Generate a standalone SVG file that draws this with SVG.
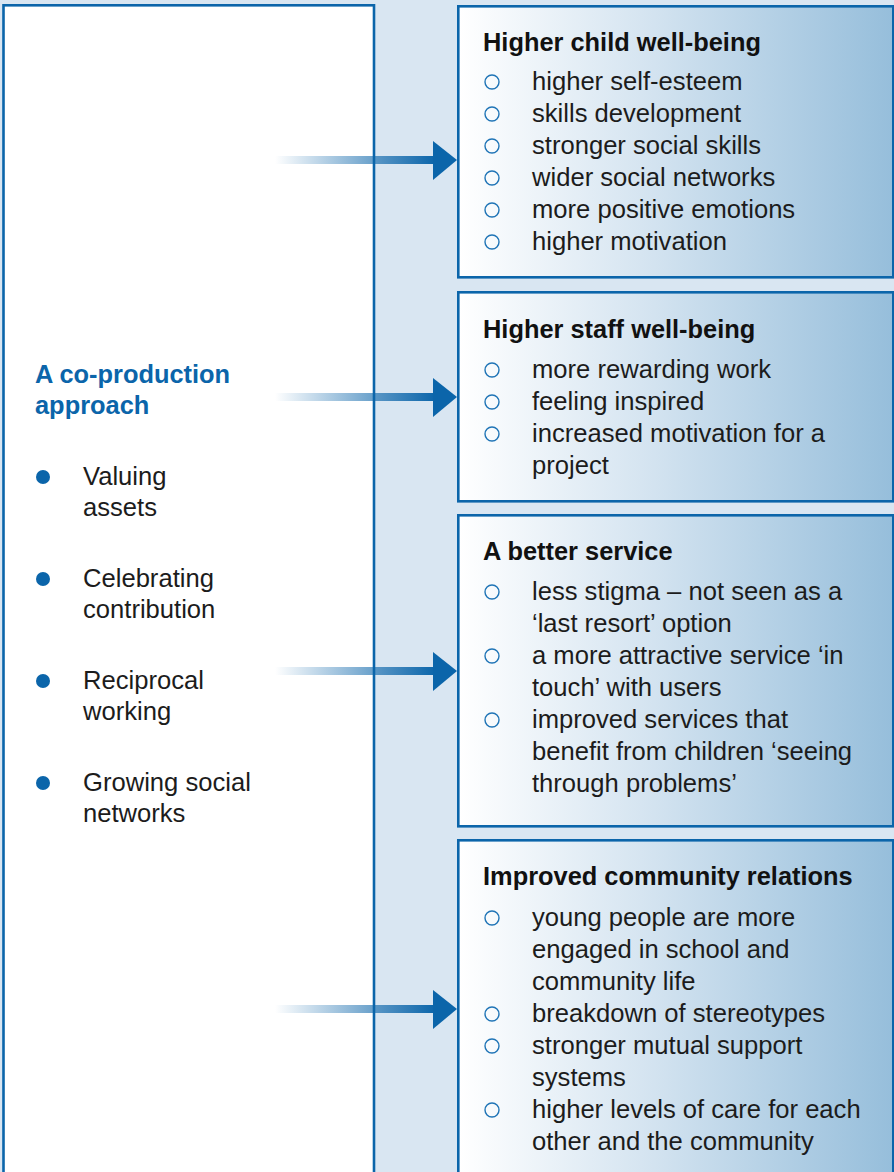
<svg xmlns="http://www.w3.org/2000/svg" width="894" height="1172" viewBox="0 0 894 1172">
  <style>
    .frame { stroke: #0b65aa; stroke-width: 2.6; }
    .left { fill: #ffffff; }
    .card { fill: url(#cardFill); }
    .head { font-family: "Liberation Sans", Arial, sans-serif; font-weight: bold; font-size: 25.4px; fill: #111111; }
    .title { font-family: "Liberation Sans", Arial, sans-serif; font-weight: bold; font-size: 25.4px; fill: #0b65aa; }
    .item { font-family: "Liberation Sans", Arial, sans-serif; font-size: 25.6px; fill: #1c1c1c; }
    .ring { fill: none; stroke: #1f74b6; stroke-width: 1.4; }
    .dot { fill: #0b65aa; }
    .shaft { fill: url(#shaftFill); }
    .tip { fill: #0b65aa; }
  </style>
  <defs>
    <linearGradient id="cardFill" x1="0" y1="0" x2="1" y2="0">
      <stop offset="0" stop-color="#ffffff"/>
      <stop offset="0.45" stop-color="#d3e3f0"/>
      <stop offset="1" stop-color="#96bedb"/>
    </linearGradient>
    <linearGradient id="shaftFill" gradientUnits="userSpaceOnUse" x1="275" y1="0" x2="436" y2="0">
      <stop offset="0" stop-color="#0b65aa" stop-opacity="0"/>
      <stop offset="1" stop-color="#0b65aa" stop-opacity="1"/>
    </linearGradient>
  </defs>

  <!-- backdrop -->
  <rect x="0" y="0" width="894" height="1172" fill="#d9e6f2"/>

  <!-- left panel: the approach -->
  <g id="approach">
    <rect class="frame left" x="3.5" y="5.3" width="370.5" height="1200"/>
    <text class="title" x="35" y="383">A co-production</text>
    <text class="title" x="35" y="414">approach</text>
    <circle class="dot" cx="43" cy="477" r="7"/>
    <text class="item" x="83" y="485">Valuing</text>
    <text class="item" x="83" y="516">assets</text>
    <circle class="dot" cx="43" cy="579" r="7"/>
    <text class="item" x="83" y="587">Celebrating</text>
    <text class="item" x="83" y="618">contribution</text>
    <circle class="dot" cx="43" cy="681" r="7"/>
    <text class="item" x="83" y="689">Reciprocal</text>
    <text class="item" x="83" y="720">working</text>
    <circle class="dot" cx="43" cy="783" r="7"/>
    <text class="item" x="83" y="791">Growing social</text>
    <text class="item" x="83" y="822">networks</text>
  </g>

  <!-- outcome: children -->
  <g id="child-wellbeing">
    <rect class="frame card" x="458.3" y="6.3" width="435" height="271"/>
    <text class="head" x="483" y="51">Higher child well-being</text>
    <circle class="ring" cx="492" cy="82" r="7"/>
    <text class="item" x="532" y="90">higher self-esteem</text>
    <circle class="ring" cx="492" cy="114" r="7"/>
    <text class="item" x="532" y="122">skills development</text>
    <circle class="ring" cx="492" cy="146" r="7"/>
    <text class="item" x="532" y="154">stronger social skills</text>
    <circle class="ring" cx="492" cy="178" r="7"/>
    <text class="item" x="532" y="186">wider social networks</text>
    <circle class="ring" cx="492" cy="210" r="7"/>
    <text class="item" x="532" y="218">more positive emotions</text>
    <circle class="ring" cx="492" cy="242" r="7"/>
    <text class="item" x="532" y="250">higher motivation</text>
  </g>

  <!-- outcome: staff -->
  <g id="staff-wellbeing">
    <rect class="frame card" x="458.3" y="292.3" width="435" height="209"/>
    <text class="head" x="483" y="338">Higher staff well-being</text>
    <circle class="ring" cx="492" cy="370" r="7"/>
    <text class="item" x="532" y="378">more rewarding work</text>
    <circle class="ring" cx="492" cy="402" r="7"/>
    <text class="item" x="532" y="410">feeling inspired</text>
    <circle class="ring" cx="492" cy="434" r="7"/>
    <text class="item" x="532" y="442">increased motivation for a</text>
    <text class="item" x="532" y="474">project</text>
  </g>

  <!-- outcome: service -->
  <g id="better-service">
    <rect class="frame card" x="458.3" y="515.3" width="435" height="311"/>
    <text class="head" x="483" y="560">A better service</text>
    <circle class="ring" cx="492" cy="592" r="7"/>
    <text class="item" x="532" y="600">less stigma – not seen as a</text>
    <text class="item" x="532" y="632">‘last resort’ option</text>
    <circle class="ring" cx="492" cy="656" r="7"/>
    <text class="item" x="532" y="664">a more attractive service ‘in</text>
    <text class="item" x="532" y="696">touch’ with users</text>
    <circle class="ring" cx="492" cy="720" r="7"/>
    <text class="item" x="532" y="728">improved services that</text>
    <text class="item" x="532" y="760">benefit from children ‘seeing</text>
    <text class="item" x="532" y="792">through problems’</text>
  </g>

  <!-- outcome: community -->
  <g id="community-relations">
    <rect class="frame card" x="458.3" y="840.3" width="435" height="400"/>
    <text class="head" x="483" y="885">Improved community relations</text>
    <circle class="ring" cx="492" cy="918" r="7"/>
    <text class="item" x="532" y="926">young people are more</text>
    <text class="item" x="532" y="958">engaged in school and</text>
    <text class="item" x="532" y="990">community life</text>
    <circle class="ring" cx="492" cy="1014" r="7"/>
    <text class="item" x="532" y="1022">breakdown of stereotypes</text>
    <circle class="ring" cx="492" cy="1046" r="7"/>
    <text class="item" x="532" y="1054">stronger mutual support</text>
    <text class="item" x="532" y="1086">systems</text>
    <circle class="ring" cx="492" cy="1110" r="7"/>
    <text class="item" x="532" y="1118">higher levels of care for each</text>
    <text class="item" x="532" y="1150">other and the community</text>
  </g>

  <!-- connectors: fading shafts ending in solid heads -->
  <g id="connectors">
    <rect class="shaft" x="275" y="156" width="159" height="8"/>
    <polygon class="tip" points="433,141 457,160 433,180"/>
    <rect class="shaft" x="275" y="393" width="159" height="8"/>
    <polygon class="tip" points="433,378 457,397 433,417"/>
    <rect class="shaft" x="275" y="667" width="159" height="8"/>
    <polygon class="tip" points="433,652 457,671 433,691"/>
    <rect class="shaft" x="275" y="1005" width="159" height="8"/>
    <polygon class="tip" points="433,990 457,1009 433,1029"/>
  </g>
</svg>
